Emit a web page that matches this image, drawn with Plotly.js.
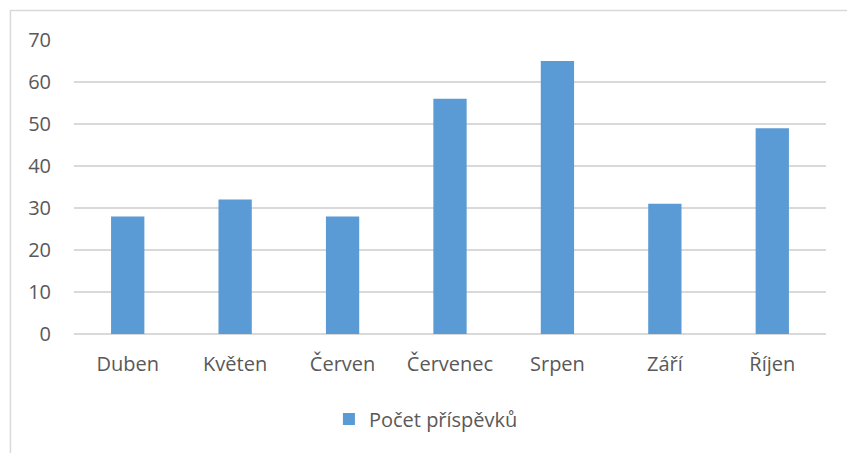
<!DOCTYPE html>
<html>
<head>
<meta charset="utf-8">
<script src="https://cdn.plot.ly/plotly-3.0.1.min.js"></script>
<style>html,body{margin:0;padding:0;background:#fff;}#chart{width:847px;height:453px;}</style>
</head>
<body>
<div id="chart"></div>
<script>
const categories = ["Duben", "Květen", "Červen", "Červenec", "Srpen", "Září", "Říjen"];
const values = [28, 32, 28, 56, 65, 31, 49];
const seriesName = "Počet příspěvků";
const yTicks = [0, 10, 20, 30, 40, 50, 60, 70];

const font = {family: "Open Sans, sans-serif", size: 20, color: "#595959"};

const trace = {
  type: "bar",
  x: categories,
  y: values,
  name: seriesName,
  marker: {color: "#5b9bd5"},
  showlegend: true,
  hoverinfo: "skip"
};

const layout = {
  width: 847,
  height: 453,
  margin: {l: 74, r: 21, t: 40, b: 119},
  paper_bgcolor: "#ffffff",
  plot_bgcolor: "#ffffff",
  font: font,
  bargap: 0.69,
  showlegend: true,
  xaxis: {
    showgrid: false,
    zeroline: false,
    showline: false,
    ticks: "",
    ticklabelstandoff: 16,
    tickfont: font,
    fixedrange: true
  },
  yaxis: {
    range: [0, 70],
    tickvals: yTicks,
    ticktext: yTicks.map(String),
    showgrid: true,
    gridcolor: "#d9d9d9",
    gridwidth: 1.2,
    zeroline: true,
    zerolinecolor: "#d9d9d9",
    zerolinewidth: 1.2,
    showline: false,
    ticks: "",
    ticklabelstandoff: 22,
    tickfont: font,
    fixedrange: true
  },
  legend: {
    orientation: "h",
    x: 0.468,
    xanchor: "center",
    y: -0.289,
    yanchor: "middle",
    font: font,
    itemwidth: 30
  },
  shapes: [{
    type: "rect",
    xref: "paper", yref: "paper",
    x0: -0.0845, x1: 1.05,
    y0: -0.45, y1: 1.1003,
    line: {color: "#d9d9d9", width: 1.5},
    fillcolor: "rgba(0,0,0,0)",
    layer: "below"
  }]
};

Plotly.newPlot("chart", [trace], layout, {displayModeBar: false, staticPlot: true});
</script>
</body>
</html>
